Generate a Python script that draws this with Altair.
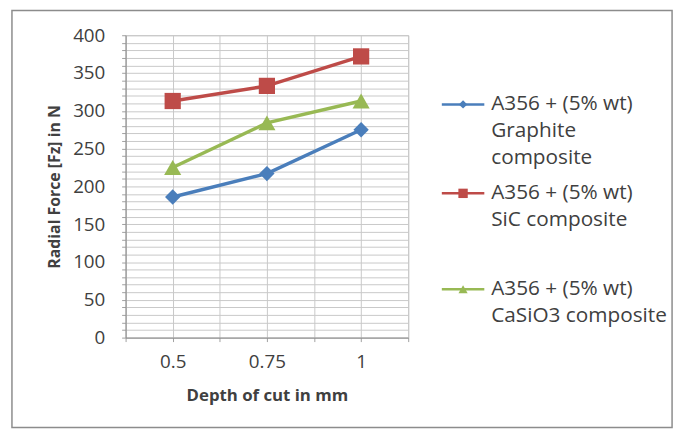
import altair as alt
import pandas as pd
import numpy as np

# ---- data ----
depth = [0.5, 0.75, 1.0]
series = ["Graphite", "SiC", "CaSiO3"]
graphite = [186, 217, 275]
sic = [313, 333, 372]
casio3 = [225, 284, 313]
legend_labels = [
    "A356 + (5% wt)\nGraphite\ncomposite",
    "A356 + (5% wt)\nSiC composite",
    "A356 + (5% wt)\nCaSiO3 composite",
]
y_ticks = list(range(0, 401, 10))
x_ticks = [0.375, 0.5, 0.625, 0.75, 0.875, 1.0, 1.125]
x_labels = [0.5, 0.75, 1.0]

colors = ["#4A7EBB", "#BE4B48", "#98B954"]
shapes = ["diamond", "square", "triangle-up"]
sizes = [240, 300, 290]

rows = []
for name, vals in zip(series, [graphite, sic, casio3]):
    for d, v in zip(depth, vals):
        rows.append({"depth": d, "force": v, "series": name})
df = pd.DataFrame(rows)

FONT = "Open Sans"
TXT = "#404040"
GRID = "#c8c8c8"
W, H = 286, 306

xenc = alt.X(
    "depth:Q",
    scale=alt.Scale(domain=[0.375, 1.125], nice=False, zero=False),
    axis=alt.Axis(
        values=x_ticks, tickCount=20,
        labelExpr="indexof(%s, datum.value) >= 0 ? format(datum.value, '.3~f') : ''" % str(x_labels),
        labelOverlap=False, labelBound=False, labelFlush=False,
        title="Depth of cut in mm",
        titleFont=FONT, titleFontSize=17, titleFontWeight="bold", titleColor=TXT,
        titleY=51, titleBaseline="top",
        labelFont=FONT, labelFontSize=19, labelColor=TXT, labelPadding=11,
        tickSize=4, tickColor="#a0a0a0",
        grid=True, gridColor=GRID, gridWidth=1,
        domainColor="#8c8c8c", domainWidth=1,
    ),
)
yenc = alt.Y(
    "force:Q",
    scale=alt.Scale(domain=[0, 400], nice=False),
    axis=alt.Axis(
        values=y_ticks, tickCount=60,
        labelExpr="datum.value % 50 == 0 ? datum.label : ''",
        labelOverlap=False, labelBound=False, labelFlush=False,
        title="Radial Force [Fz] in N",
        titleFont=FONT, titleFontSize=16, titleFontWeight="bold", titleColor=TXT,
        titleX=-72, titleBaseline="middle", titleAngle=-90,
        labelFont=FONT, labelFontSize=19, labelColor=TXT, labelPadding=17,
        tickSize=4, tickColor="#a0a0a0",
        grid=True, gridColor=GRID, gridWidth=1,
        domainColor="#8c8c8c", domainWidth=1,
    ),
)
cscale = alt.Scale(domain=series, range=colors)

lines = alt.Chart(df).mark_line(strokeWidth=3.5).encode(
    x=xenc, y=yenc,
    color=alt.Color("series:N", scale=cscale, legend=None),
    detail="series:N",
)
points = alt.Chart(df).mark_point(filled=True, opacity=1).encode(
    x="depth:Q", y="force:Q",
    color=alt.Color("series:N", scale=cscale, legend=None),
    shape=alt.Shape("series:N", scale=alt.Scale(domain=series, range=shapes), legend=None),
    size=alt.Size("series:O", scale=alt.Scale(domain=series, range=sizes), legend=None),
)

# ---- frame ----
frame_df = pd.DataFrame({"k": [0]})
frame = alt.Chart(frame_df).mark_rect(
    fill=None, stroke="#8c8c8c", strokeWidth=1.5, clip=False
).encode(x=alt.value(-115), x2=alt.value(553), y=alt.value(-25), y2=alt.value(397))

# ---- manual legend ----
leg_df = pd.DataFrame({"series": series, "label": legend_labels})
LEG_Y = [70, 160, 257]
legend_layers = []
for i, s in enumerate(series):
    sub = alt.Chart(leg_df).transform_filter(alt.datum.series == s)
    legend_layers.append(
        sub.mark_rule(color=colors[i], strokeWidth=2.5, clip=False).encode(
            x=alt.value(320), x2=alt.value(363), y=alt.value(LEG_Y[i])
        )
    )
    legend_layers.append(
        sub.mark_point(filled=True, opacity=1, color=colors[i], shape=shapes[i],
                       size=sizes[i] * 0.3, clip=False).encode(
            x=alt.value(341.5), y=alt.value(LEG_Y[i])
        )
    )
    legend_layers.append(
        sub.mark_text(align="left", baseline="middle", font=FONT, fontSize=21,
                      color=TXT, lineBreak="\n", lineHeight=27, clip=False).encode(
            x=alt.value(370), y=alt.value(LEG_Y[i]), text="label:N"
        )
    )

chart = alt.layer(frame, lines, points, *legend_layers).properties(
    width=W, height=H,
    autosize=alt.AutoSizeParams(type="none"),
    padding={"left": 119, "top": 25, "right": 273, "bottom": 98},
    background="white",
).configure_view(stroke=GRID, strokeWidth=1)

chart.save("out.html", embed_options={"renderer": "svg", "actions": False})
